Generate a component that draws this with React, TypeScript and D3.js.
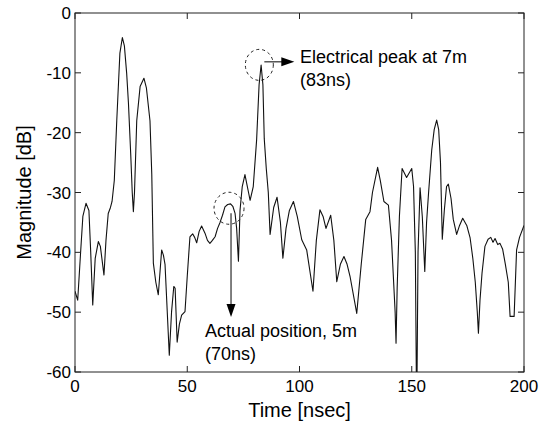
import React from "react";
import * as d3 from "d3";

const W = 549;
const H = 424;

const timeNs: number[] = [
  0, 1.2, 2.5, 3.5, 4.9, 6.2, 7, 7.9, 9, 10.4, 11.3, 12.9, 13.8, 14.8, 15.8, 16.5, 17.5, 18.6, 20, 21.1,
  22, 23, 23.8, 24.8, 25.5, 26, 26.5, 27.5, 29, 30.7, 31.8, 33.4, 34.2, 34.9, 36, 37.1, 38.6, 39.4, 40.1, 42,
  43, 44, 44.6, 45.5, 46.5, 47.5, 49, 50, 51.2, 52.4, 53.3, 54.2, 55.3, 56.4, 57.9, 59, 60.1, 61.2, 62.4, 63.5,
  64.6, 65.7, 66.8, 68, 69.3, 70.3, 71.3, 72, 72.8, 73.5, 74.5, 75.7, 76.5, 77.3, 78, 79.4, 80.9, 82, 82.9, 83.7,
  84.3, 85.2, 86.1, 86.9, 88.5, 90, 91.5, 92.6, 94, 95.5, 97.3, 99, 101, 103.2, 106, 107.5, 109.1, 110.5, 111.8, 113.9,
  115.3, 116.6, 118.2, 119.8, 121.2, 122.5, 125.5, 127.5, 129.5, 131.4, 132.5, 134.8, 136, 137.6, 139.6, 141, 142.6, 143, 143.5, 144.5,
  145.7, 147.7, 150, 150.8, 151.6, 152.2, 152.8, 153.7, 154.7, 155.8, 156.6, 157.5, 158.9, 160, 161.1, 162, 162.8, 163.6, 164.5, 165.5,
  166.3, 167.5, 168.5, 170, 171.3, 172.7, 174.5, 176, 177.2, 178.3, 179.2, 179.7, 180.4, 181.3, 182.6, 184, 185.2, 186.2, 187.1, 188.3,
  189.3, 190.5, 191.7, 193, 193.8, 195.6, 196.7, 198, 200,
];

const magnitudeDb: number[] = [
  -46.5, -48, -40, -34, -31.8, -33, -40, -48.8, -41, -38.2, -39, -43.8, -38, -33.5, -32.5, -31.5, -28, -18, -6.7, -4.1,
  -5.5, -10, -15, -23.4, -30, -33.2, -30, -18, -12.3, -10.9, -12.5, -18, -27, -41.8, -45, -47.1, -39.6, -40.5, -42, -57.2,
  -50, -45.7, -46, -55, -52, -50.5, -49.9, -44, -37.4, -36.9, -37.5, -38.4, -36.5, -35.6, -36.8, -38, -38.5, -38, -37.4, -36,
  -35, -33.8, -32.4, -32, -31.9, -32.3, -33.5, -36, -41.5, -33, -29, -27, -28.5, -30, -31.3, -29, -21.2, -12, -8.7, -12,
  -21, -26, -30, -37, -32.5, -30.8, -35, -41, -36, -33, -31.5, -34, -37.9, -39.6, -46.5, -38, -32.9, -34, -36, -33.8,
  -38, -44.9, -42, -40.7, -42, -44, -50.2, -42, -34.5, -33.2, -30, -25.8, -28, -31.5, -32.1, -38, -50, -55.2, -46, -34,
  -26, -27.5, -26, -29, -40, -68, -40, -29.2, -34, -43.2, -35, -30, -22.9, -19.5, -17.9, -19.5, -25, -37.8, -33, -29,
  -28.6, -31, -34.5, -37, -35.5, -34.3, -35.5, -37.6, -41, -45, -50, -53.5, -48, -43.5, -39, -37.8, -37.5, -38.3, -37.7, -38.7,
  -38.5, -39.5, -42, -45, -50.7, -50.7, -39.6, -37.5, -35.5,
];

const xTicks: number[] = [0, 50, 100, 150, 200];
const yTicks: number[] = [0, -10, -20, -30, -40, -50, -60];

const xLabel = "Time [nsec]";
const yLabel = "Magnitude [dB]";
const peakLabel = ["Electrical peak at 7m", "(83ns)"];
const actualLabel = ["Actual position, 5m", "(70ns)"];
const peakPoint = { t: 83, db: -8.5 };
const actualPoint = { t: 69.5, db: -32.3 };

const margin = { left: 75, right: 25, top: 13, bottom: 52 };

export default function App() {
  const x = d3.scaleLinear().domain([0, 200]).range([margin.left, W - margin.right]);
  const y = d3.scaleLinear().domain([-60, 0]).range([H - margin.bottom, margin.top]);
  const x0 = x(0), x1 = x(200), y0 = y(-60), y1 = y(0);

  const pts: [number, number][] = timeNs.map((t, i) => [t, magnitudeDb[i]]);
  const line = d3
    .line<[number, number]>()
    .x((d) => x(d[0]))
    .y((d) => y(d[1]));
  const path = line(pts) || "";

  const font = "'Liberation Sans', Arial, Helvetica, sans-serif";
  const tickLen = 6;

  const pcx = x(peakPoint.t) - 2;
  const pcy = y(peakPoint.db) + 1;
  const acx = x(actualPoint.t) - 2;
  const acy = y(actualPoint.db) + 2;

  const arrowY = pcy - 3;
  const arrowX0 = pcx + 5;
  const arrowTip = pcx + 35;
  const downX = x(actualPoint.t);
  const downTip = 317;

  return (
    <svg
      width={W}
      height={H}
      style={{ position: "absolute", left: 0, top: 0, background: "#fff" }}
    >
      <defs>
        <clipPath id="plotclip">
          <rect x={x0} y={y1} width={x1 - x0} height={y0 - y1} />
        </clipPath>
      </defs>
      <rect x={0} y={0} width={W} height={H} fill="#fff" />
      <path
        d={path}
        fill="none"
        stroke="#111"
        strokeWidth={1.1}
        strokeLinejoin="round"
        clipPath="url(#plotclip)"
      />
      {/* box */}
      <rect x={x0} y={y1} width={x1 - x0} height={y0 - y1} fill="none" stroke="#222" strokeWidth={1} />
      {xTicks.map((t) => (
        <g key={"xt" + t}>
          <line x1={x(t)} x2={x(t)} y1={y0} y2={y0 - tickLen} stroke="#222" />
          <line x1={x(t)} x2={x(t)} y1={y1} y2={y1 + tickLen} stroke="#222" />
          <text
            x={x(t)}
            y={y0 + 20}
            textAnchor="middle"
            fontFamily={font}
            fontSize={17}
            fill="#000"
          >
            {t}
          </text>
        </g>
      ))}
      {yTicks.map((v) => (
        <g key={"yt" + v}>
          <line x1={x0} x2={x0 + tickLen} y1={y(v)} y2={y(v)} stroke="#222" />
          <line x1={x1} x2={x1 - tickLen} y1={y(v)} y2={y(v)} stroke="#222" />
          <text
            x={x0 - 4}
            y={y(v) + 6}
            textAnchor="end"
            fontFamily={font}
            fontSize={17}
            fill="#000"
          >
            {v === 0 ? "0" : "-" + Math.abs(v)}
          </text>
        </g>
      ))}
      <text
        x={(x0 + x1) / 2}
        y={417}
        textAnchor="middle"
        fontFamily={font}
        fontSize={20}
        fill="#000"
      >
        {xLabel}
      </text>
      <text
        transform={`translate(31,${(y0 + y1) / 2}) rotate(-90)`}
        textAnchor="middle"
        fontFamily={font}
        fontSize={20}
        fill="#000"
      >
        {yLabel}
      </text>

      {/* annotation: electrical peak */}
      <ellipse cx={pcx} cy={pcy} rx={14} ry={15.5} fill="none" stroke="#222" strokeWidth={1} strokeDasharray="3,3" />
      <line x1={arrowX0} x2={arrowTip - 12} y1={arrowY} y2={arrowY} stroke="#000" strokeWidth={1} />
      <path
        d={`M${arrowTip - 13},${arrowY - 4.5} L${arrowTip},${arrowY} L${arrowTip - 13},${arrowY + 4.5} Z`}
        fill="#000"
      />
      <text x={300} y={63} fontFamily={font} fontSize={18} fill="#000">
        {peakLabel[0]}
      </text>
      <text x={300} y={86} fontFamily={font} fontSize={18} fill="#000">
        {peakLabel[1]}
      </text>

      {/* annotation: actual position */}
      <ellipse cx={acx} cy={acy} rx={15} ry={16} fill="none" stroke="#222" strokeWidth={1} strokeDasharray="3,3" />
      <line x1={downX} x2={downX} y1={acy + 5} y2={downTip - 12} stroke="#000" strokeWidth={1} />
      <path
        d={`M${downX - 4.5},${downTip - 13} L${downX},${downTip} L${downX + 4.5},${downTip - 13} Z`}
        fill="#000"
      />
      <text x={205} y={337} fontFamily={font} fontSize={18} fill="#000">
        {actualLabel[0]}
      </text>
      <text x={205} y={360} fontFamily={font} fontSize={18} fill="#000">
        {actualLabel[1]}
      </text>
    </svg>
  );
}
